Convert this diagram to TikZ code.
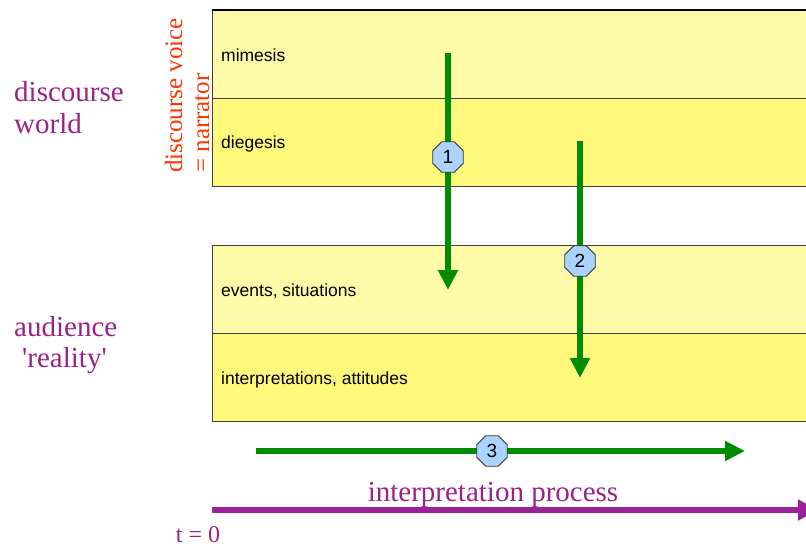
\documentclass[tikz,border=0pt]{standalone}
\usepackage{fontspec}
\setmainfont{Liberation Serif}
\setsansfont{Liberation Sans}
\usetikzlibrary{arrows.meta,shapes.geometric}
\definecolor{lightyel}{RGB}{255,250,168}
\definecolor{darkyel}{RGB}{255,248,122}
\definecolor{purp}{RGB}{153,34,136}
\definecolor{purparrow}{RGB}{153,34,153}
\definecolor{narr}{RGB}{255,51,0}
\definecolor{grn}{RGB}{0,140,0}
\definecolor{badgeblue}{RGB}{170,212,255}
\tikzset{
  lightbox/.style={draw=black!75, line width=1pt, fill=lightyel, minimum width=640pt, minimum height=88pt, inner sep=0pt, anchor=north west},
  darkbox/.style={draw=black!75, line width=1pt, fill=darkyel, minimum width=640pt, minimum height=88pt, inner sep=0pt, anchor=north west},
  boxlabel/.style={font=\sffamily\fontsize{17.5}{20}\selectfont, anchor=west, inner sep=0pt},
  sidelabel/.style={font=\fontsize{29}{32}\selectfont, text=purp, align=left, anchor=north west, inner sep=0pt},
  grnarrow/.style={draw=grn, line width=6pt, -{Triangle[length=20pt,width=19pt]}},
  badge/.style={regular polygon, regular polygon sides=8, minimum size=33pt, inner sep=0pt, draw=black!80, line width=0.8pt, fill=badgeblue, font=\sffamily\fontsize{19}{21}\selectfont},
}
\begin{document}
\begin{tikzpicture}[x=1pt,y=-1pt]
\useasboundingbox (0,0) rectangle (806,548);
% boxes
\node[lightbox] (mim) at (212,10) {};
\node[darkbox] (dieg) at (212,98) {};
\node[lightbox] (ev) at (212,245) {};
\node[darkbox] (interp) at (212,333) {};
\draw[black, line width=1.2pt] (212,10) -- (806,10);
% box labels
\node[boxlabel] (lmim) at (221,55) {mimesis};
\node[boxlabel] (ldieg) at (221,144) {diegesis};
\node[boxlabel] (lev) at (221,291) {events, situations};
\node[boxlabel] (lint) at (221,380) {interpretations, attitudes};
% side labels
\node[sidelabel] (dw) at (14,81) {discourse\\world};
\node[sidelabel] (ar) at (14,316) {audience\\[-1pt]\hspace*{8pt}\textquotesingle reality\textquotesingle};
\node[font=\fontsize{25}{27}\selectfont, text=narr, align=left, rotate=90, anchor=west, inner sep=0pt] (narrator) at (187,173) {discourse voice\\= narrator};
% green arrows
\coordinate (a1s) at (448,53);
\coordinate (a1e) at (448,290);
\coordinate (a2s) at (580,141);
\coordinate (a2e) at (580,378);
\coordinate (a3s) at (256,451);
\coordinate (a3e) at (745,451);
\draw[grnarrow] (a1s) -- (a1e);
\draw[grnarrow] (a2s) -- (a2e);
\draw[grnarrow] (a3s) -- (a3e);
\node[badge] (b1) at (448,157) {1};
\node[badge] (b2) at (580,261) {2};
\node[badge] (b3) at (492,451) {3};
% time axis
\coordinate (ts) at (212,510);
\coordinate (te) at (818,510);
\draw[draw=purparrow, line width=6.5pt, -{Triangle[length=20pt,width=20pt]}] (ts) -- (te);
\node[font=\fontsize{29}{32}\selectfont, text=purp, inner sep=0pt] (ip) at (493,495) {interpretation process};
\node[font=\fontsize{24}{28}\selectfont, text=purp, inner sep=0pt] (t0) at (198,535) {t = 0};
\end{tikzpicture}
\end{document}
